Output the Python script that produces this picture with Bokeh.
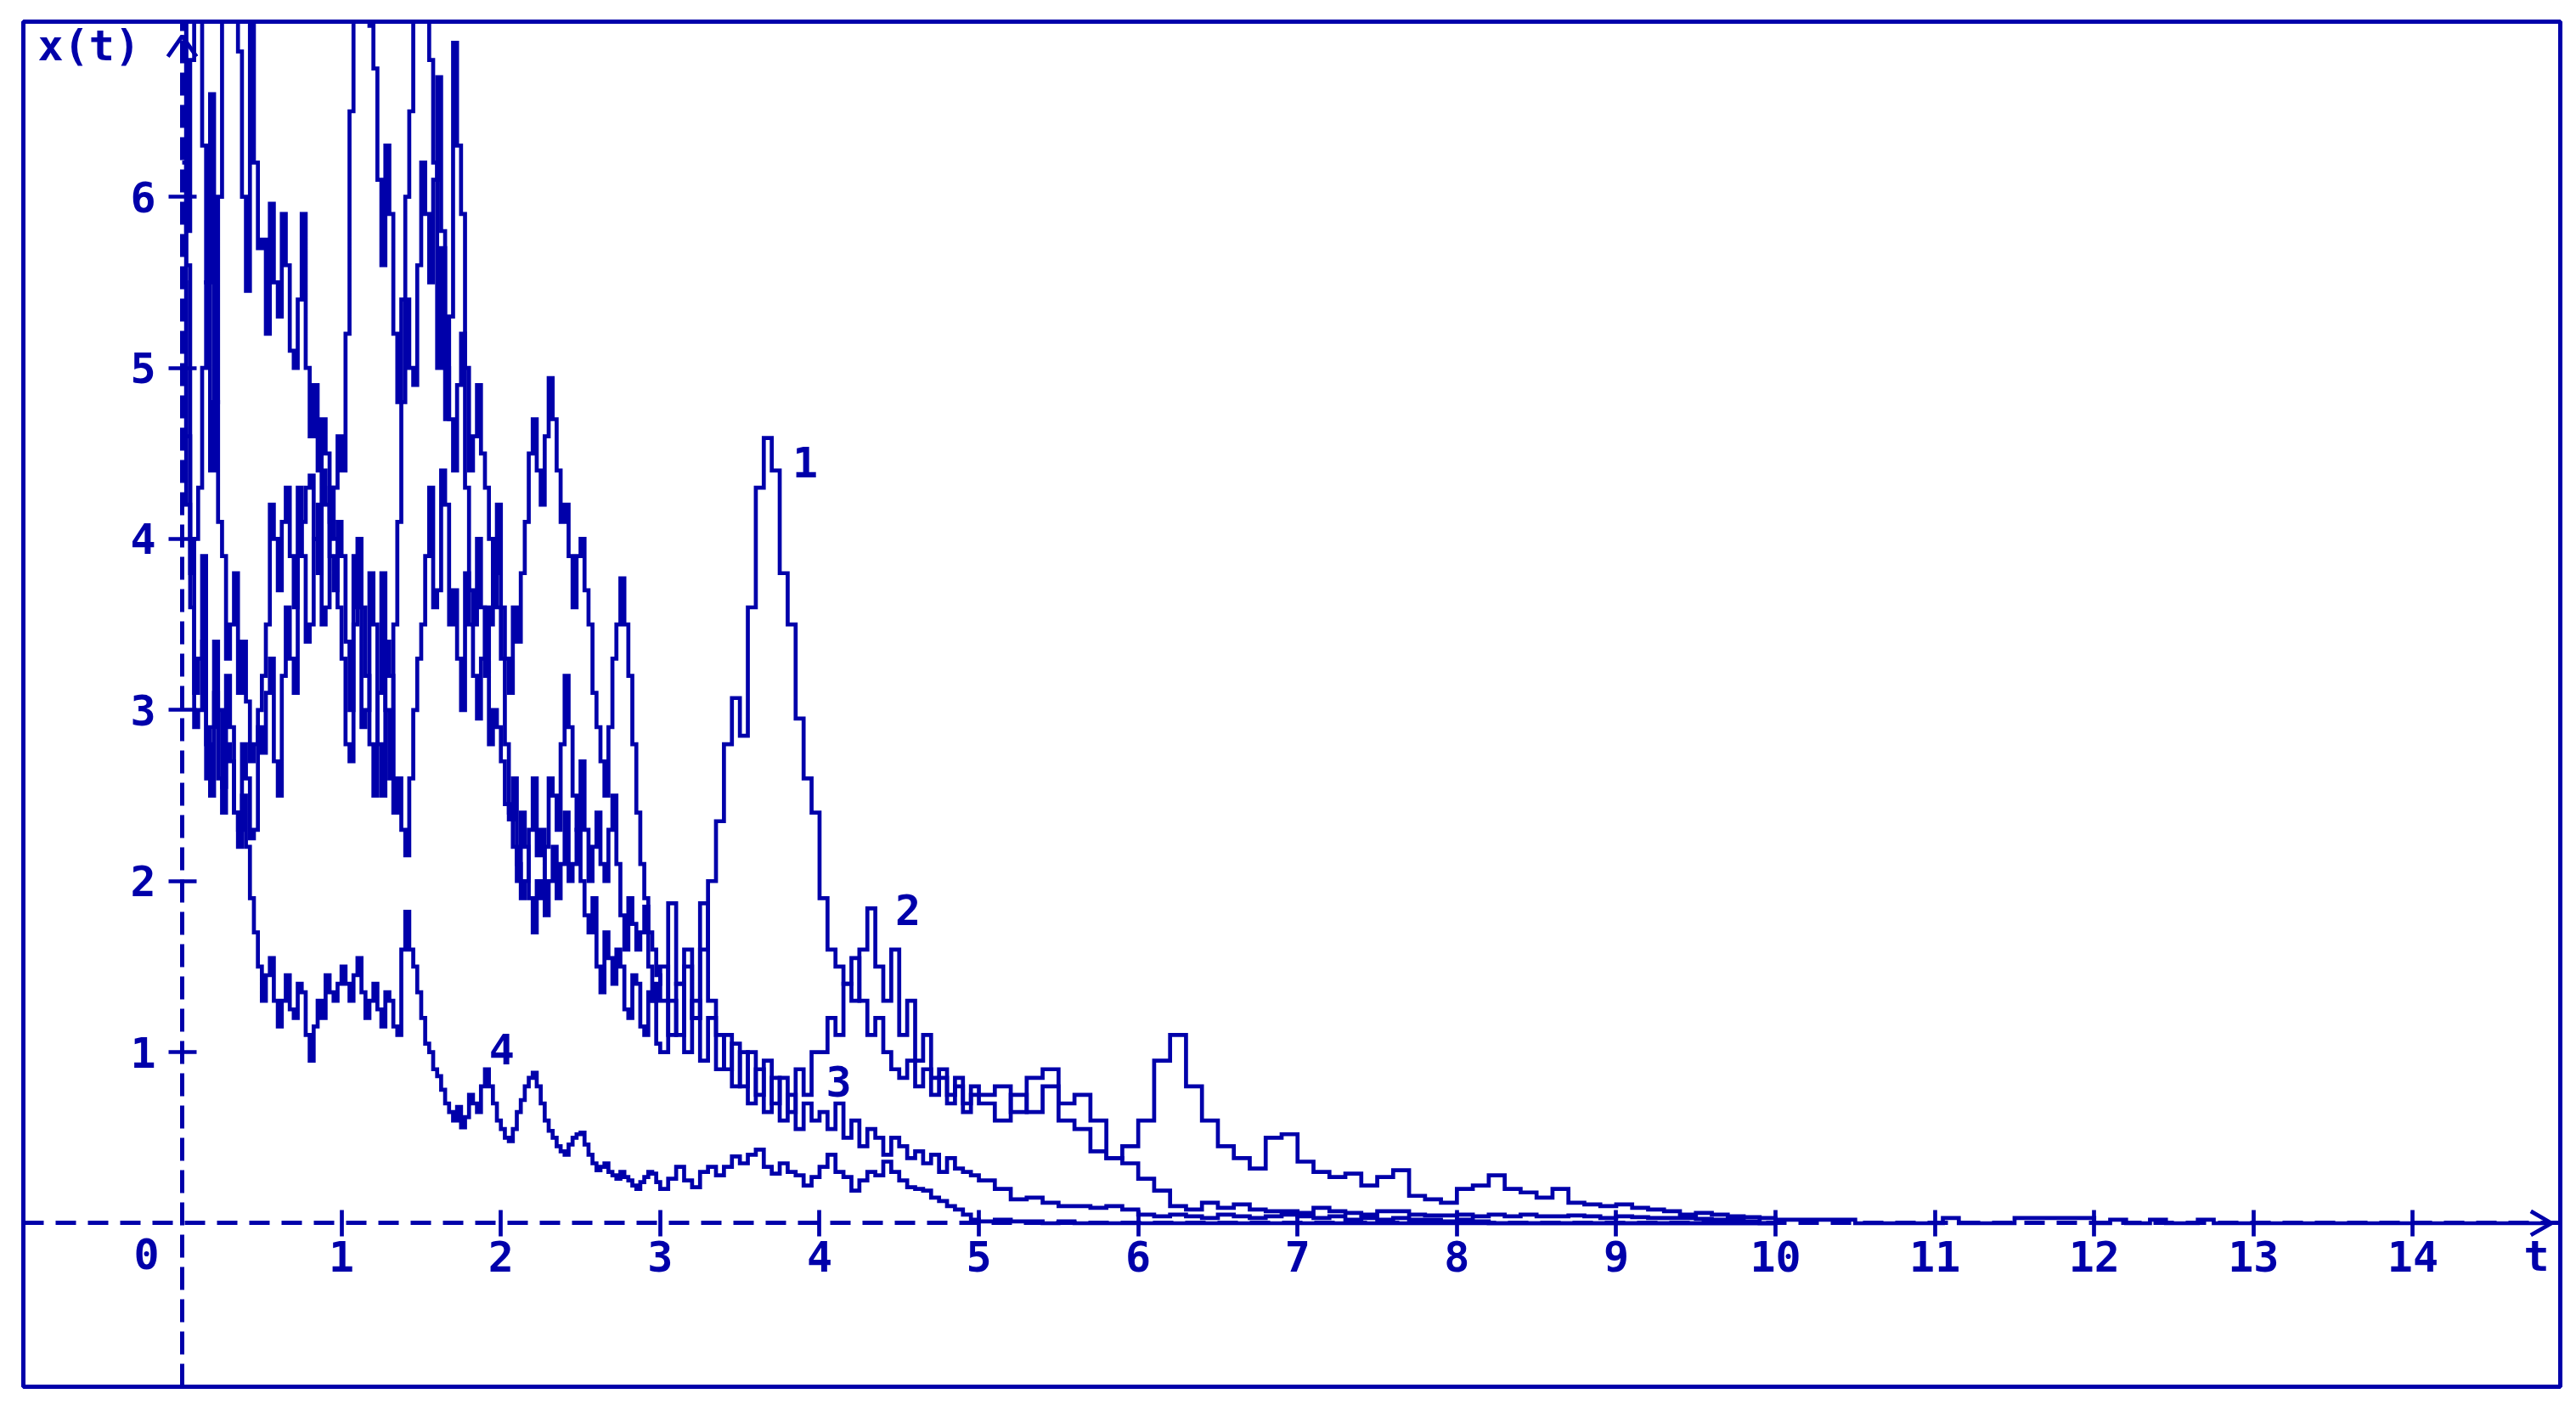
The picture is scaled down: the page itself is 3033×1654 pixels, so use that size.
import numpy as np
from bokeh.plotting import figure
from bokeh.models import Range1d, LinearAxis, FixedTicker
from bokeh.embed import file_html
from bokeh.resources import INLINE
from bokeh.core.properties import value

BLUE = "#0000AA"
FONT = "DejaVu Sans Mono"

# ---------------- data ----------------
# sampling times: 0..3 every 0.025, 3.05..5 every 0.05, 5.1..10 every 0.1
t_fine = [round(i * 0.025, 3) for i in range(121)]
t_med = [round(3.05 + i * 0.05, 2) for i in range(40)]
t_mid = [round(5.1 + i * 0.1, 1) for i in range(50)]

# curve 1 (big peak near t=3.7)
x1_fine = [7.5, 5.6, 4.0, 3.1, 3.3, 3.9, 2.8, 2.5, 3.4, 3.0, 2.55, 3.2, 2.9, 2.4, 2.2, 2.8, 2.6, 2.25, 2.3, 2.9,
           2.75, 3.1, 3.3, 2.7, 2.5, 3.2, 3.6, 3.3, 3.1, 4.3, 3.9, 3.4, 3.5, 4.0, 4.2, 3.5, 3.6, 4.3, 4.0, 3.6,
           3.3, 2.8, 2.7, 3.9, 3.6, 2.9, 3.0, 3.8, 3.5, 2.8, 2.5, 3.4, 3.2, 2.4, 2.6, 2.3, 2.15, 2.6, 3.0, 3.3,
           3.5, 3.9, 4.3, 3.6, 3.7, 4.4, 4.2, 3.5, 3.7, 3.3, 3.0, 3.8, 3.5, 3.2, 2.95, 3.3, 3.6, 2.8, 3.0, 2.9,
           2.7, 2.45, 2.36, 2.6, 2.1, 1.9, 2.0, 2.3, 2.6, 2.15, 2.3, 1.8, 2.0, 2.2, 1.9, 2.1, 2.4, 2.0, 2.1, 2.3,
           2.0, 1.8, 1.7, 1.9, 1.5, 1.35, 1.7, 1.55, 1.4, 1.6, 1.5, 1.25, 1.2, 1.45, 1.4, 1.15, 1.1, 1.35, 1.3, 1.05,
           1.0]
x1_med = [1.3, 1.1, 1.5, 1.2, 1.6, 2.0, 2.35, 2.8, 3.07,
          2.85, 3.6, 4.3, 4.59, 4.4, 3.8, 3.5, 2.95, 2.6, 2.4,
          1.9, 1.6, 1.5, 1.4, 1.55, 1.3, 1.1, 1.2, 1.0, 0.9,
          0.85, 0.95, 0.8, 0.9, 0.75, 0.85, 0.7, 0.8, 0.65, 0.75,
          0.7]
x1_mid = [0.6, 0.75, 0.65, 0.8, 0.6, 0.55, 0.42, 0.38, 0.35, 0.26,
          0.19, 0.1, 0.08, 0.12, 0.09, 0.11, 0.08, 0.07, 0.07, 0.06,
          0.09, 0.07, 0.06, 0.05, 0.07, 0.07, 0.05, 0.045, 0.045, 0.05,
          0.04, 0.05, 0.04, 0.05, 0.04, 0.04, 0.045, 0.04, 0.03, 0.04,
          0.035, 0.03, 0.03, 0.03, 0.025, 0.02, 0.02, 0.01, 0.0, 0.0]

# curve 2 (long tail, bump near t=6.2)
x2_fine = [7.5, 5.8, 6.8, 7.4, 7.4, 6.3, 5.5, 6.6, 4.8, 6.0, 7.3, 7.4, 7.4, 7.4, 6.85, 6.0, 5.45, 7.3, 6.2, 5.7,
           5.75, 5.2, 5.96, 5.5, 5.3, 5.9, 5.6, 5.1, 5.0, 5.4, 5.9, 5.0, 4.6, 4.9, 4.4, 4.7, 4.5, 4.1, 4.3, 4.6,
           4.4, 5.2, 6.5, 7.4, 7.4, 7.4, 7.4, 7.0, 6.75, 6.1, 5.6, 6.3, 5.9, 5.2, 4.8, 5.4, 6.0, 6.5, 7.3, 7.4,
           7.4, 7.4, 6.8, 6.2, 5.0, 5.7, 4.7, 5.3, 6.9, 6.3, 5.9, 5.0, 4.4, 4.6, 4.9, 4.5, 4.3, 4.0, 3.8, 4.2,
           3.6, 3.3, 3.1, 3.6, 3.4, 3.8, 4.1, 4.5, 4.7, 4.4, 4.2, 4.6, 4.94, 4.7, 4.4, 4.1, 4.2, 3.9, 3.6, 3.9,
           4.0, 3.7, 3.5, 3.1, 2.9, 2.7, 2.5, 2.9, 3.3, 3.5, 3.77, 3.5, 3.2, 2.8, 2.4, 2.1, 1.9, 1.7, 1.6, 1.45,
           1.3]
x2_med = [1.87, 1.4, 1.6, 1.2, 1.87, 1.3, 1.1, 0.9, 1.05,
          0.8, 1.0, 0.75, 0.95, 0.7, 0.85, 0.65, 0.9, 0.75, 1.0,
          1.0, 1.2, 1.1, 1.4, 1.3, 1.6, 1.84, 1.5, 1.3, 1.6,
          1.1, 1.3, 0.95, 1.1, 0.85, 0.9, 0.75, 0.85, 0.7, 0.8,
          0.75]
x2_mid = [0.8, 0.65, 0.85, 0.9, 0.7, 0.75, 0.6, 0.38, 0.45, 0.6,
          0.95, 1.1, 0.8, 0.6, 0.45, 0.38, 0.32, 0.5, 0.52, 0.36,
          0.3, 0.27, 0.29, 0.22, 0.27, 0.31, 0.16, 0.14, 0.12, 0.2,
          0.22, 0.28, 0.2, 0.18, 0.15, 0.2, 0.12, 0.11, 0.1, 0.11,
          0.09, 0.08, 0.07, 0.05, 0.06, 0.05, 0.04, 0.035, 0.03, 0.02]
t2_tail = [10.5, 11.05, 11.15, 11.5, 12.0, 12.1, 12.2, 12.35, 12.45, 12.65, 12.75, 14.85]
x2_tail = [0.0, 0.03, 0.0, 0.03, 0.0, 0.02, 0.0, 0.02, 0.0, 0.02, 0.0, 0.0]

# curve 3
x3_fine = [6.2, 4.6, 3.8, 4.0, 4.3, 5.0, 5.5, 4.4, 4.8, 4.1, 3.9, 3.3, 3.5, 3.8, 3.1, 3.4, 3.05, 2.7, 2.8, 3.0,
           3.2, 3.5, 4.2, 4.0, 3.7, 4.1, 4.3, 3.9, 3.6, 3.9, 4.1, 4.3, 4.37, 4.0, 3.8, 4.4, 4.2, 3.9, 3.7, 4.1,
           3.9, 3.4, 3.0, 3.5, 4.0, 3.6, 3.2, 2.8, 2.5, 3.1, 3.8, 3.0, 2.6, 3.5, 4.1, 4.8, 5.4, 5.0, 4.9, 5.6,
           6.2, 5.9, 5.5, 6.1, 6.7, 5.8, 5.0, 4.7, 4.4, 4.9, 5.2, 4.3, 3.7, 3.5, 4.0, 3.6, 3.2, 3.5, 4.0, 3.6,
           3.3, 2.8, 2.4, 2.2, 2.0, 2.4, 2.2, 1.9, 1.7, 2.0, 1.9, 2.2, 2.6, 2.5, 2.3, 2.8, 3.2, 2.9, 2.5, 2.3,
           2.7, 2.3, 2.0, 2.2, 2.4, 2.1, 2.0, 2.3, 2.5, 2.1, 1.8, 1.6, 1.9, 1.75, 1.6, 1.7, 1.85, 1.5, 1.3, 1.4,
           1.5]
x3_med = [1.1, 1.4, 1.0, 1.3, 0.95, 1.2, 0.9, 1.1, 0.8,
          1.0, 0.7, 0.9, 0.65, 0.85, 0.6, 0.75, 0.55, 0.7, 0.6,
          0.65, 0.55, 0.7, 0.5, 0.6, 0.45, 0.55, 0.5, 0.4, 0.5,
          0.45, 0.38, 0.42, 0.35, 0.4, 0.3, 0.38, 0.32, 0.3, 0.28,
          0.25]
x3_mid = [0.2, 0.14, 0.15, 0.12, 0.1, 0.1, 0.09, 0.1, 0.08, 0.05,
          0.04, 0.05, 0.04, 0.03, 0.05, 0.04, 0.03, 0.04, 0.05, 0.04,
          0.03, 0.04, 0.02, 0.03, 0.02, 0.03, 0.02, 0.02, 0.01, 0.02,
          0.01, 0.0, 0.0, 0.0, 0.0, 0.0, 0.0, 0.0, 0.0, 0.0,
          0.0, 0.0, 0.0, 0.0, 0.0, 0.0, 0.0, 0.0, 0.0, 0.0]

# curve 4 (lowest)
x4_fine = [5.5, 4.2, 3.6, 2.9, 3.0, 3.4, 2.6, 2.9, 3.1, 2.6, 2.4, 2.8, 2.7, 2.4, 2.3, 2.5, 2.2, 1.9, 1.7, 1.5,
           1.3, 1.45, 1.55, 1.3, 1.15, 1.3, 1.45, 1.25, 1.2, 1.4, 1.35, 1.1, 0.95, 1.15, 1.3, 1.2, 1.45, 1.35, 1.3, 1.4,
           1.5, 1.4, 1.3, 1.45, 1.55, 1.35, 1.2, 1.3, 1.4, 1.25, 1.15, 1.35, 1.3, 1.15, 1.1, 1.6, 1.82, 1.6, 1.5, 1.35,
           1.2, 1.05, 1.0, 0.9, 0.86, 0.78, 0.7, 0.65, 0.6, 0.68, 0.56, 0.62, 0.75, 0.7, 0.65, 0.8, 0.9, 0.8, 0.7, 0.6,
           0.55, 0.5, 0.48, 0.55, 0.65, 0.72, 0.8, 0.85, 0.88, 0.8, 0.7, 0.6, 0.54, 0.5, 0.45, 0.42, 0.4, 0.46, 0.5, 0.52,
           0.53, 0.46, 0.4, 0.35, 0.31, 0.33, 0.35, 0.3, 0.28, 0.26, 0.3, 0.27, 0.25, 0.22, 0.2, 0.24, 0.27, 0.3, 0.29, 0.24,
           0.2]
x4_med = [0.26, 0.33, 0.25, 0.21, 0.3, 0.33, 0.28, 0.33, 0.39,
          0.35, 0.4, 0.43, 0.33, 0.29, 0.35, 0.3, 0.28, 0.22, 0.27,
          0.33, 0.4, 0.3, 0.27, 0.19, 0.25, 0.3, 0.28, 0.36, 0.3,
          0.25, 0.21, 0.2, 0.19, 0.15, 0.13, 0.1, 0.08, 0.05, 0.02,
          0.01]
x4_mid = [0.02, 0.01, 0.01, 0.0, 0.01, 0.0, 0.0, 0.0, 0.0, 0.0,
          0.0, 0.0, 0.0, 0.0, 0.0, 0.0, 0.0, 0.0, 0.0, 0.0,
          0.0, 0.0, 0.0, 0.0, 0.0, 0.0, 0.0, 0.0, 0.0, 0.0,
          0.0, 0.0, 0.0, 0.0, 0.0, 0.0, 0.0, 0.0, 0.0, 0.0,
          0.0, 0.0, 0.0, 0.0, 0.0, 0.0, 0.0, 0.0, 0.0, 0.0]

x_ticks = [1, 2, 3, 4, 5, 6, 7, 8, 9, 10, 11, 12, 13, 14]
y_ticks = [1, 2, 3, 4, 5, 6]
curve_labels = ["1", "2", "3", "4"]
curve_label_t = [3.91, 4.555, 4.12, 2.005]
curve_label_x = [4.45, 1.83, 0.83, 1.02]

# ---------------- figure ----------------
p = figure(width=3025, height=1644,
           x_range=Range1d(-0.997, 14.925), y_range=Range1d(-0.956, 7.024),
           output_backend="svg", toolbar_location=None, title=None,
           x_axis_location=None, y_axis_location=None,
           min_border_left=27, min_border_right=11,
           min_border_top=25, min_border_bottom=12)
p.grid.visible = False
p.outline_line_color = BLUE
p.outline_line_width = 5
p.background_fill_color = "white"
p.border_fill_color = "white"


def style_axis(ax, dash, tin, tout, standoff):
    ax.axis_line_color = BLUE
    ax.axis_line_width = 5
    ax.axis_line_dash = dash
    ax.major_tick_line_color = BLUE
    ax.major_tick_line_width = 4.7
    ax.major_tick_in = tin
    ax.major_tick_out = tout
    ax.minor_tick_line_color = None
    ax.major_label_text_font = FONT
    ax.major_label_text_font_style = "bold"
    ax.major_label_text_font_size = "50px"
    ax.major_label_text_color = BLUE
    ax.major_label_standoff = standoff


xaxis = LinearAxis(fixed_location=0, ticker=FixedTicker(ticks=x_ticks))
style_axis(xaxis, "24 14", 15, 16, 5)
p.add_layout(xaxis, "below")

yaxis = LinearAxis(fixed_location=0, ticker=FixedTicker(ticks=y_ticks))
style_axis(yaxis, "27 11", 17, 16, 15)
p.add_layout(yaxis, "left")

t_all = t_fine + t_med + t_mid
curves = [
    (t_all, x1_fine + x1_med + x1_mid),
    (t_all + t2_tail, x2_fine + x2_med + x2_mid + x2_tail),
    (t_all, x3_fine + x3_med + x3_mid),
    (t_all, x4_fine + x4_med + x4_mid),
]
for tt, xx in curves:
    p.step(x=tt, y=xx, mode="after", line_color=BLUE, line_width=4.7,
           line_join="miter", line_cap="butt")

# axis arrowheads
p.line(x=[14.74, 14.87, 14.74], y=[0.07, 0.0, -0.07], line_color=BLUE, line_width=4.7)
p.line(x=[-0.09, 0.0, 0.09], y=[6.82, 6.94, 6.82], line_color=BLUE, line_width=4.7)

txt = dict(text_font=value(FONT), text_font_style="bold", text_font_size="50px",
           text_color=BLUE, text_baseline="middle")

p.text(x=curve_label_t, y=curve_label_x, text=curve_labels, text_align="center", **txt)
p.text(x=[-0.224], y=[-0.18], text=["0"], text_align="center", **txt)
p.text(x=[14.776], y=[-0.196], text=["t"], text_align="center", **txt)
p.text(x=[-0.906], y=[6.88], text=["x(t)"], text_align="left", **txt)

open("out.html", "w").write(file_html(p, INLINE))
